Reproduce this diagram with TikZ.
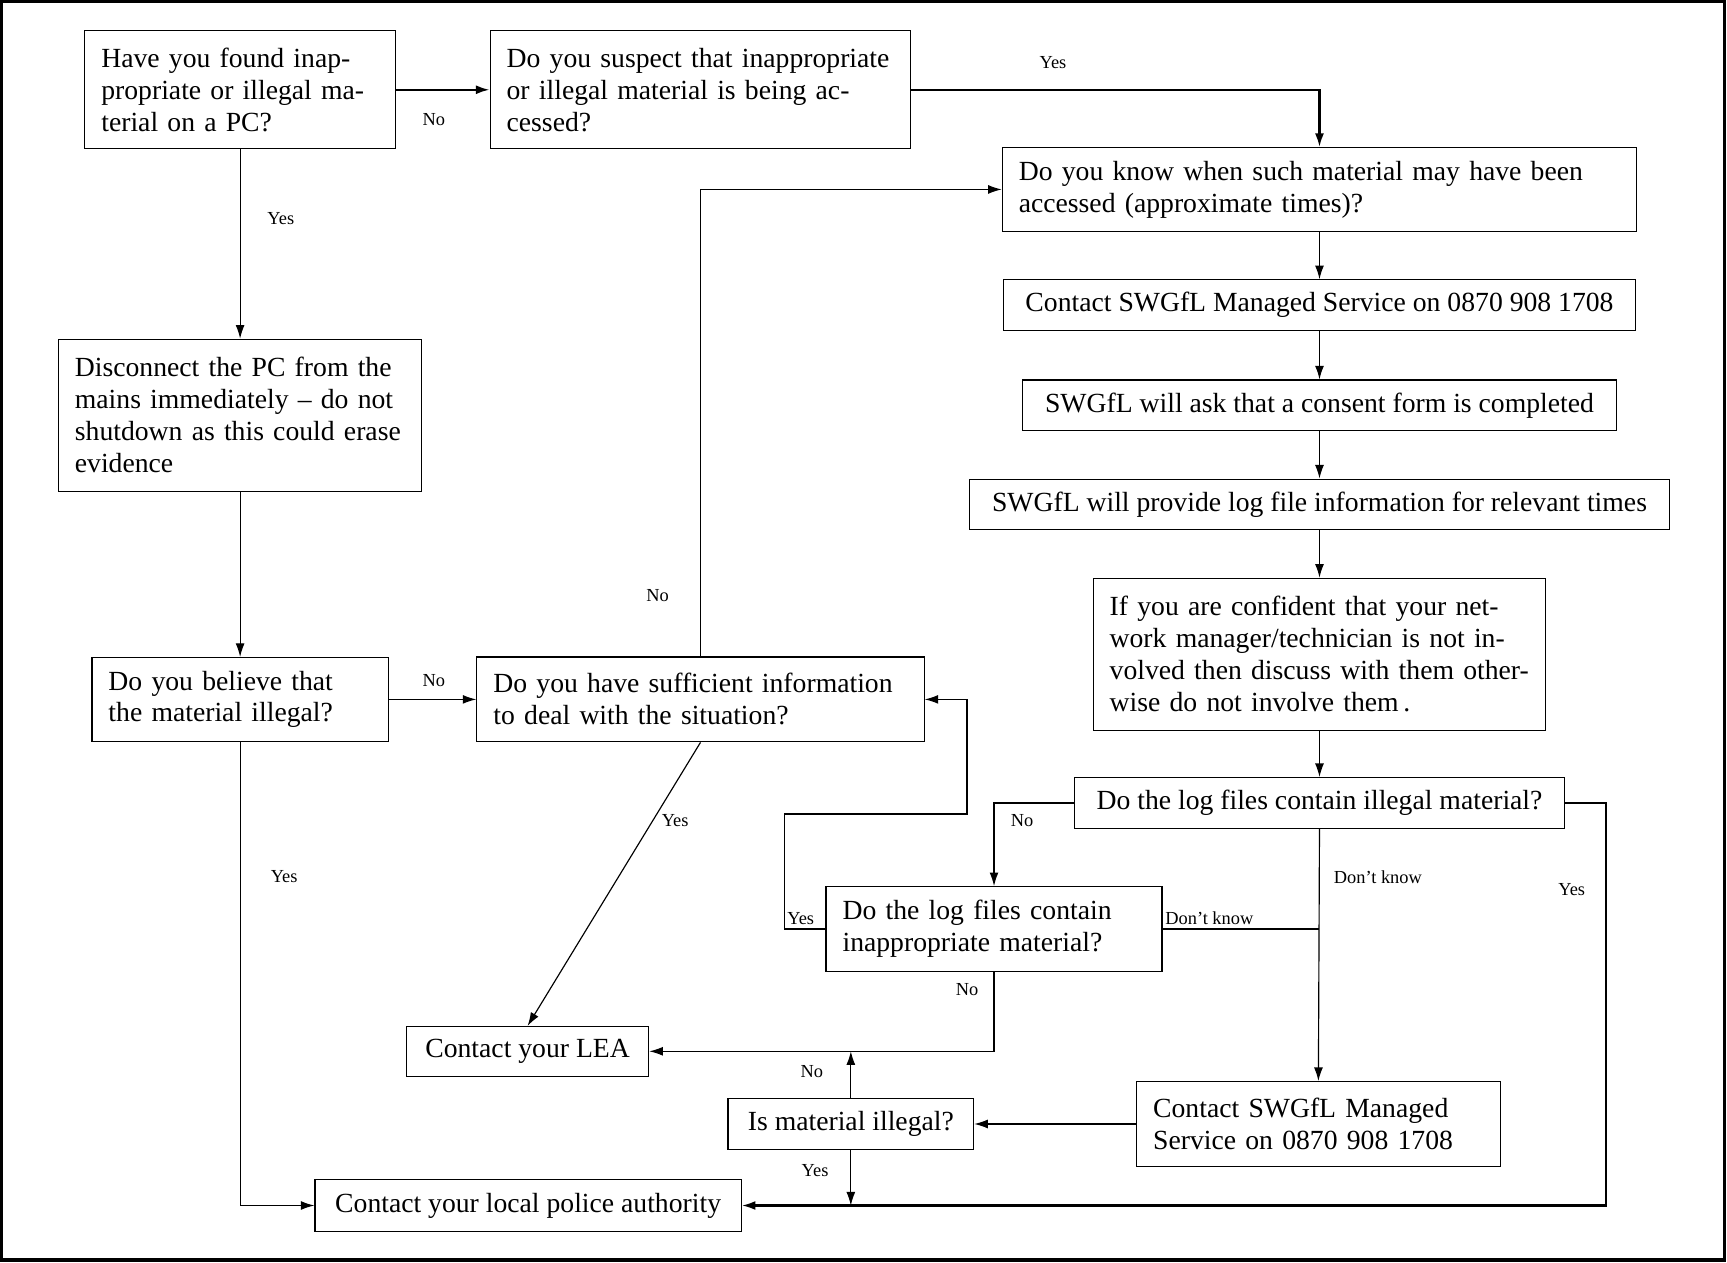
\documentclass[tikz,border=0pt]{standalone}
\usepackage{fontspec}
\setmainfont{Liberation Serif}
\usetikzlibrary{arrows.meta}
\usetikzlibrary{positioning}

\begin{document}
\begin{tikzpicture}[x=0.2mm, y=-0.2mm, >={Latex[length=7pt,width=4.6pt]}]
          \tikzstyle{box}=[draw, line width=0.6pt, align=left, inner xsep=3mm, inner ysep=1.5mm, font=\fontsize{14.3}{16.5}\selectfont]
          \tikzstyle{lbl}=[inner sep=0pt, font=\fontsize{9.5}{11}\selectfont]
          \tikzstyle{link}=[line width=0.6pt]
          \tikzstyle{boldlink}=[line width=1.1pt]

          \useasboundingbox (0,0) rectangle (1568,1146);
          \draw[line width=1.6pt] (1.5,1.5) rectangle (1566,1144);

          % left column
          \node[box, minimum width=56.4mm, minimum height=21.4mm, text width=50.4mm] (found) at (218,81.5)
            {Have you found inap-\\propriate or illegal ma-\\terial on a PC?};
          \node[box, minimum width=66mm, minimum height=27.6mm, text width=60mm] (disconnect) at (218,377)
            {Disconnect the PC from the\\mains immediately – do not\\shutdown as this could erase\\evidence};
          \node[box, minimum width=53.8mm, minimum height=15.2mm, text width=47.8mm] (believe) at (218,635)
            {Do you believe that\\the material illegal?};
          \node[box, minimum width=77.4mm, minimum height=9.4mm] (police) at (479.5,1094.5)
            {Contact your local police authority};

          % middle
          \node[box, minimum width=76.4mm, minimum height=21.4mm, text width=70.4mm] (suspect) at (636,81.5)
            {Do you suspect that inappropriate\\or illegal material is being ac-\\cessed?};
          \node[box, minimum width=81.2mm, minimum height=15.4mm, text width=75.2mm] (sufficient) at (636,635)
            {Do you have sufficient information\\to deal with the situation?};
          \node[box, minimum width=44mm, minimum height=9mm] (lea) at (479,954.5)
            {Contact your LEA};
          \node[box, minimum width=61mm, minimum height=15.4mm, text width=55mm] (loginapp) at (902.5,843.5)
            {Do the log files contain\\inappropriate material?};
          \node[box, minimum width=44.6mm, minimum height=9.4mm] (isillegal) at (772.5,1020.5)
            {Is material illegal?};

          % right column
          \node[box, minimum width=115.2mm, minimum height=15.2mm, text width=109.2mm] (know) at (1198,172)
            {Do you know when such material may have been\\accessed (approximate times)?};
          \node[box, minimum width=114.8mm, minimum height=9.2mm] (contact1) at (1198,277)
            {Contact SWGfL Managed Service on 0870 908 1708};
          \node[box, minimum width=107.8mm, minimum height=9.2mm] (consent) at (1198,368)
            {SWGfL will ask that a consent form is completed};
          \node[box, minimum width=127.2mm, minimum height=9.2mm] (logprov) at (1198,458)
            {SWGfL will provide log file information for relevant times};
          \node[box, minimum width=82.2mm, minimum height=27.6mm, text width=76.2mm] (confident) at (1198,594)
            {If you are confident that your net-\\work manager/technician is not in-\\volved then discuss with them other-\\wise do not involve them\,.};
          \node[box, minimum width=89mm, minimum height=9.2mm] (logillegal) at (1198,729)
            {Do the log files contain illegal material?};
          \node[box, minimum width=66mm, minimum height=15.4mm, text width=60mm] (contact2) at (1197,1020.5)
            {Contact SWGfL Managed\\Service on 0870 908 1708};

          \coordinate (loopA) at (712,739);
          \coordinate (loopB) at (878,739);
          \coordinate (yesR) at (1458,1094.5);

          % connectors
          \draw[->, boldlink] (found.east) -- (suspect.west);
          \draw[->, link] (found.south) -- (disconnect.north);
          \draw[->, boldlink] (suspect.east) -| (know.north);
          \draw[->, link] (know.south) -- (contact1.north);
          \draw[->, link] (contact1.south) -- (consent.north);
          \draw[->, link] (consent.south) -- (logprov.north);
          \draw[->, link] (logprov.south) -- (confident.north);
          \draw[->, link] (confident.south) -- (logillegal.north);
          \draw[->, link] (disconnect.south) -- (believe.north);
          \draw[->, link] (believe.east) -- (sufficient.west);
          \draw[->, link] (believe.south) |- (police.west);
          \draw[->, link] (sufficient.north) |- (know.west);
          \draw[->, link] (sufficient.south) -- (lea.north);
          \draw[->, link] (logillegal.west) -| (loginapp.north);
          \draw[->, link] (logillegal.south) -- (contact2.north);
          \draw[->, boldlink] (logillegal.east) -| (yesR) -- (police.east);
          \draw[link] (loginapp.east) -- (loginapp.east -| logillegal.south);
          \draw[->, link] (loginapp.west) -| (loopA) -- (loopB) |- (sufficient.east);
          \draw[->, link] (loginapp.south) |- (lea.east);
          \draw[->, link] (contact2.west) -- (isillegal.east);
          \draw[->, link] (isillegal.north) -- (isillegal.north |- lea.east);
          \draw[->, link] (isillegal.south) -- (isillegal.south |- police.east);

          % labels
          \node[lbl] (noFound) at (394,109) {No};
          \node[lbl] (yesFound) at (255,198) {Yes};
          \node[lbl] (yesSuspect) at (956,57) {Yes};
          \node[lbl] (noBelieve) at (394,618) {No};
          \node[lbl] (yesBelieve) at (258,796) {Yes};
          \node[lbl] (noSufficient) at (597,541) {No};
          \node[lbl] (yesSufficient) at (613,745) {Yes};
          \node[lbl] (noLogIllegal) at (928,745) {No};
          \node[lbl] (dkLogIllegal) at (1251,796) {Don’t know};
          \node[lbl] (yesLogIllegal) at (1427,808) {Yes};
          \node[lbl] (dkLogInapp) at (1098,834) {Don’t know};
          \node[lbl] (yesLogInapp) at (727,834) {Yes};
          \node[lbl] (noLogInapp) at (878,898) {No};
          \node[lbl] (noIsIllegal) at (737,973) {No};
          \node[lbl] (yesIsIllegal) at (740,1063) {Yes};
        \end{tikzpicture}
\end{document}
